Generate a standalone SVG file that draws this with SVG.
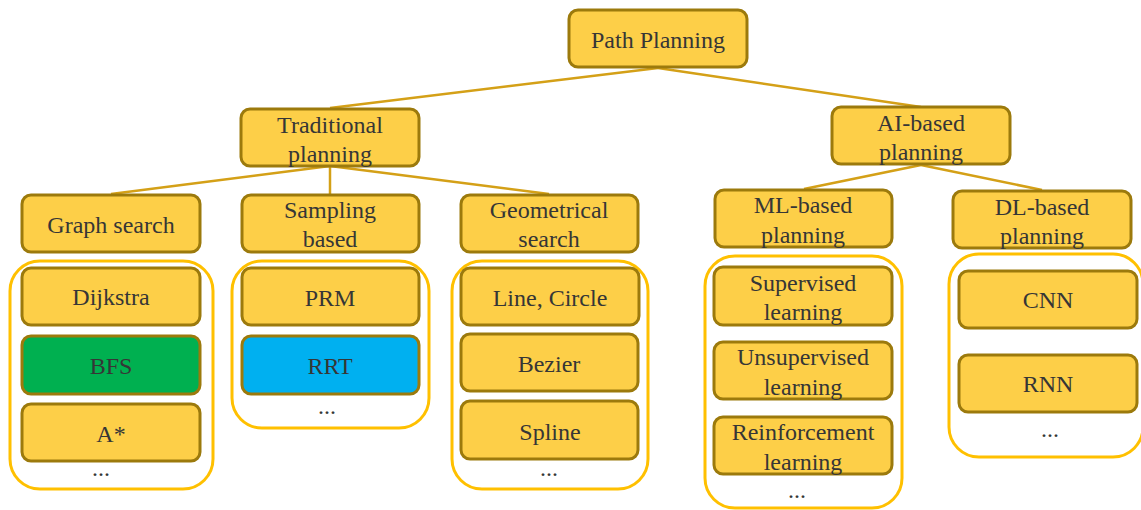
<svg xmlns="http://www.w3.org/2000/svg" width="1141" height="510" viewBox="0 0 1141 510">
  <style>
    .box { fill: #FDCF48; stroke: #9C7A0C; stroke-width: 3; }
    .green { fill: #00B050; }
    .blue { fill: #00B0F0; }
    .group { fill: #FFFFFF; stroke: #FFC000; stroke-width: 3; }
    .link { stroke: #D4A017; stroke-width: 2.5; fill: none; }
    text { font-family: "Liberation Serif", "Times New Roman", serif; font-size: 24px; fill: #363636; text-anchor: middle; }
  </style>

  <!-- connectors -->
  <g id="connectors">
    <line class="link" x1="658" y1="68" x2="330" y2="108"/>
    <line class="link" x1="658" y1="68" x2="921" y2="107"/>
    <line class="link" x1="330" y1="166" x2="111" y2="194"/>
    <line class="link" x1="330" y1="166" x2="330" y2="194"/>
    <line class="link" x1="330" y1="166" x2="549" y2="194"/>
    <line class="link" x1="921" y1="165" x2="804" y2="189"/>
    <line class="link" x1="921" y1="165" x2="1042" y2="190"/>
  </g>

  <!-- group frames -->
  <g id="groups">
    <rect class="group" x="10" y="261" width="203" height="228" rx="30"/>
    <rect class="group" x="232" y="261" width="197" height="167" rx="30"/>
    <rect class="group" x="452" y="261" width="196" height="228" rx="30"/>
    <rect class="group" x="705" y="256" width="197" height="252" rx="30"/>
    <rect class="group" x="949" y="254" width="194" height="203" rx="30"/>
  </g>

  <g id="path-planning">
    <rect class="box" x="569" y="10" width="178" height="57" rx="9"/>
    <text x="658" y="48">Path Planning</text>
  </g>

  <g id="traditional-planning">
    <rect class="box" x="241" y="109" width="178" height="57" rx="9"/>
    <text x="330" y="133">Traditional</text>
    <text x="330" y="162">planning</text>
  </g>

  <g id="ai-based-planning">
    <rect class="box" x="832" y="107" width="178" height="57" rx="9"/>
    <text x="921" y="131">AI-based</text>
    <text x="921" y="160">planning</text>
  </g>

  <g id="graph-search">
    <rect class="box" x="22" y="195" width="178" height="57" rx="9"/>
    <text x="111" y="233">Graph search</text>
  </g>

  <g id="sampling-based">
    <rect class="box" x="242" y="195" width="177" height="57" rx="9"/>
    <text x="330" y="218">Sampling</text>
    <text x="330" y="247">based</text>
  </g>

  <g id="geometrical-search">
    <rect class="box" x="461" y="195" width="177" height="57" rx="9"/>
    <text x="549" y="218">Geometrical</text>
    <text x="549" y="247">search</text>
  </g>

  <g id="ml-based-planning">
    <rect class="box" x="715" y="190" width="177" height="57" rx="9"/>
    <text x="803" y="213">ML-based</text>
    <text x="803" y="243">planning</text>
  </g>

  <g id="dl-based-planning">
    <rect class="box" x="953" y="191" width="178" height="57" rx="9"/>
    <text x="1042" y="215">DL-based</text>
    <text x="1042" y="244">planning</text>
  </g>

  <!-- graph search members -->
  <g id="dijkstra">
    <rect class="box" x="22" y="268" width="178" height="57" rx="9"/>
    <text x="111" y="305">Dijkstra</text>
  </g>
  <g id="bfs">
    <rect class="box green" x="22" y="336" width="178" height="58" rx="9"/>
    <text x="111" y="374">BFS</text>
  </g>
  <g id="a-star">
    <rect class="box" x="22" y="404" width="178" height="57" rx="9"/>
    <text x="111" y="442">A*</text>
  </g>
  <text x="101" y="476">...</text>

  <!-- sampling members -->
  <g id="prm">
    <rect class="box" x="242" y="268" width="177" height="57" rx="9"/>
    <text x="330" y="306">PRM</text>
  </g>
  <g id="rrt">
    <rect class="box blue" x="242" y="336" width="177" height="58" rx="9"/>
    <text x="330" y="374">RRT</text>
  </g>
  <text x="327" y="414">...</text>

  <!-- geometrical members -->
  <g id="line-circle">
    <rect class="box" x="461" y="268" width="178" height="57" rx="9"/>
    <text x="550" y="306">Line, Circle</text>
  </g>
  <g id="bezier">
    <rect class="box" x="461" y="334" width="177" height="57" rx="9"/>
    <text x="549" y="372">Bezier</text>
  </g>
  <g id="spline">
    <rect class="box" x="461" y="401" width="177" height="58" rx="9"/>
    <text x="550" y="440">Spline</text>
  </g>
  <text x="549" y="476">...</text>

  <!-- ML members -->
  <g id="supervised-learning">
    <rect class="box" x="714" y="267" width="178" height="58" rx="9"/>
    <text x="803" y="291">Supervised</text>
    <text x="803" y="320">learning</text>
  </g>
  <g id="unsupervised-learning">
    <rect class="box" x="714" y="342" width="178" height="57" rx="9"/>
    <text x="803" y="365">Unsupervised</text>
    <text x="803" y="395">learning</text>
  </g>
  <g id="reinforcement-learning">
    <rect class="box" x="714" y="417" width="178" height="57" rx="9"/>
    <text x="803" y="440">Reinforcement</text>
    <text x="803" y="470">learning</text>
  </g>
  <text x="797" y="498">...</text>

  <!-- DL members -->
  <g id="cnn">
    <rect class="box" x="959" y="271" width="178" height="57" rx="9"/>
    <text x="1048" y="308">CNN</text>
  </g>
  <g id="rnn">
    <rect class="box" x="959" y="355" width="178" height="57" rx="9"/>
    <text x="1048" y="392">RNN</text>
  </g>
  <text x="1050" y="437">...</text>
</svg>
